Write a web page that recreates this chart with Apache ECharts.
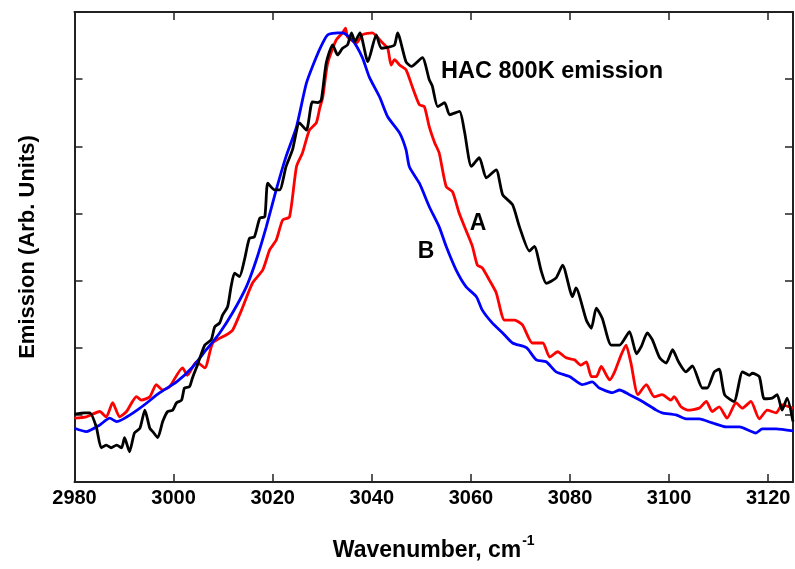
<!DOCTYPE html>
<html>
<head>
<meta charset="utf-8">
<script src="https://cdn.jsdelivr.net/npm/echarts@6/dist/echarts.min.js"></script>
<style>
html,body{margin:0;padding:0;background:#fff;}
#chart{width:795px;height:569px;}
</style>
</head>
<body>
<div id="chart"></div>
<script>
// x ticks (wavenumber, cm-1)
const xTicks = [2980, 3000, 3020, 3040, 3060, 3080, 3100, 3120];
// HAC 800K emission (black)
const curveHAC = [[2980,1.01],[2982.1,1.03],[2983.1,1.03],[2984.4,0.82],[2985.4,0.51],[2986.4,0.55],[2987.4,0.51],[2988.5,0.55],[2989.5,0.51],[2990.1,0.66],[2991.1,0.45],[2992.1,0.73],[2993.2,0.80],[2994.2,1.07],[2995.2,0.80],[2995.8,0.75],[2996.8,0.66],[2997.8,0.90],[2998.8,1.05],[2999.8,1.07],[3000.6,1.18],[3001.6,1.22],[3002.2,1.40],[3003.2,1.42],[3003.8,1.55],[3004.8,1.74],[3006.3,2.04],[3007.6,2.12],[3008.3,2.31],[3009.3,2.37],[3009.9,2.49],[3010.9,2.61],[3011.6,2.91],[3012.3,3.11],[3013.3,3.06],[3014.3,3.31],[3015.3,3.63],[3016.3,3.65],[3017.4,3.93],[3018.4,3.95],[3019.0,4.45],[3020.4,4.35],[3021.4,4.35],[3022.7,4.70],[3024.0,4.95],[3025.4,5.35],[3026.8,5.24],[3028.0,5.66],[3029.1,5.65],[3029.8,5.69],[3030.8,6.24],[3032.1,6.51],[3033.1,6.36],[3034.1,6.46],[3035.1,6.51],[3035.9,6.69],[3036.6,6.56],[3037.6,6.69],[3039.2,6.26],[3040.9,6.66],[3041.9,6.46],[3043.6,6.48],[3044.6,6.51],[3045.2,6.69],[3046.9,6.26],[3048.0,6.19],[3050.2,6.32],[3051.6,5.99],[3052.2,5.90],[3053.3,5.59],[3054.7,5.65],[3055.7,5.47],[3057.7,5.52],[3058.7,5.22],[3060.1,4.70],[3061.7,4.83],[3063.1,4.53],[3065.1,4.65],[3066.4,4.28],[3068.4,4.13],[3069.8,3.80],[3071.8,3.44],[3072.8,3.51],[3074.2,3.14],[3075.2,2.96],[3077.2,3.04],[3078.5,3.23],[3080.5,2.76],[3081.2,2.89],[3083.3,2.41],[3084.3,2.29],[3085.3,2.59],[3086.5,2.44],[3088.3,2.04],[3090.0,2.04],[3092.0,2.24],[3093.4,1.91],[3094.4,2.02],[3095.6,2.22],[3096.6,2.12],[3098.1,1.85],[3099.4,1.77],[3100.7,1.97],[3101.9,1.79],[3103.4,1.64],[3104.7,1.73],[3106.7,1.40],[3107.7,1.40],[3109.1,1.64],[3110.1,1.68],[3111.2,1.30],[3113.1,1.20],[3114.8,1.64],[3116.2,1.59],[3116.8,1.62],[3118.2,1.57],[3119.2,1.24],[3120.8,1.25],[3121.8,1.30],[3122.8,1.07],[3123.8,1.25],[3125,0.90]];
// curve A (red)
const curveA = [[2980,0.95],[2982.4,0.97],[2985.1,1.05],[2986.4,0.97],[2987.7,1.18],[2989.1,0.97],[2990.5,1.05],[2992.5,1.27],[2993.5,1.22],[2995.2,1.27],[2996.5,1.45],[2997.8,1.37],[2999.2,1.42],[3001.8,1.70],[3002.8,1.59],[3004.6,1.79],[3006.3,1.70],[3007.9,2.07],[3010.6,2.19],[3011.9,2.26],[3013.7,2.56],[3015.9,2.96],[3018.0,3.16],[3019.4,3.46],[3020.7,3.60],[3022.0,3.90],[3023.4,3.95],[3024.8,4.70],[3026.0,4.90],[3027.4,5.24],[3028.8,5.35],[3029.5,5.57],[3030.1,5.73],[3031.1,6.24],[3032.8,6.58],[3034.1,6.69],[3034.7,6.76],[3035.1,6.63],[3036.9,6.54],[3038.1,6.66],[3040.1,6.69],[3041.9,6.56],[3043.2,6.46],[3043.9,6.21],[3044.6,6.29],[3045.6,6.21],[3046.9,6.14],[3048.2,5.88],[3049.6,5.62],[3050.6,5.59],[3051.6,5.29],[3052.7,5.05],[3053.6,4.90],[3055.0,4.40],[3056.3,4.32],[3057.6,4.01],[3059.0,3.75],[3060.3,3.51],[3061.3,3.23],[3062.3,3.19],[3063.7,3.01],[3065.1,2.82],[3066.8,2.41],[3068.8,2.41],[3070.4,2.34],[3072.4,2.07],[3074.5,2.07],[3075.9,1.86],[3077.5,1.94],[3079.2,1.85],[3080.9,1.82],[3082.2,1.74],[3083.3,1.79],[3084.3,1.57],[3085.3,1.57],[3086.3,1.72],[3088.0,1.52],[3089.0,1.64],[3090.3,1.89],[3091.3,2.04],[3092.3,1.77],[3093.7,1.30],[3095.4,1.45],[3097.0,1.27],[3098.6,1.30],[3100.4,1.22],[3101.0,1.27],[3102.4,1.12],[3103.7,1.07],[3106.1,1.10],[3107.5,1.20],[3108.7,1.05],[3110.1,1.12],[3111.7,0.95],[3113.5,1.18],[3114.8,1.10],[3116.5,1.20],[3118.2,0.94],[3119.8,1.07],[3121.6,1.03],[3122.8,1.15],[3125,1.10]];
// curve B (blue)
const curveB = [[2980,0.80],[2982.4,0.75],[2985.1,0.85],[2987.1,0.95],[2988.5,0.90],[2993.2,1.10],[2997.2,1.33],[3000.6,1.49],[3003.8,1.71],[3006.6,1.97],[3009.3,2.22],[3011.9,2.52],[3014.7,2.91],[3016.7,3.31],[3018.7,3.80],[3020.7,4.35],[3022.7,4.85],[3024.8,5.29],[3026.8,5.94],[3028.8,6.33],[3030.1,6.54],[3031.1,6.66],[3033.1,6.69],[3034.1,6.69],[3036.1,6.58],[3038.1,6.32],[3039.5,6.03],[3041.6,5.73],[3043.2,5.44],[3045.6,5.20],[3046.9,4.95],[3047.6,4.69],[3049.6,4.45],[3051.6,4.10],[3053.6,3.80],[3055.0,3.51],[3057.0,3.16],[3059.0,2.91],[3061.1,2.76],[3062.3,2.56],[3064.3,2.37],[3066.4,2.22],[3068.4,2.07],[3071.2,2.00],[3073.2,1.82],[3075.2,1.79],[3077.2,1.64],[3079.9,1.57],[3082.5,1.45],[3084.5,1.49],[3085.9,1.40],[3088.6,1.33],[3090.0,1.37],[3092.0,1.30],[3094.6,1.20],[3097.4,1.07],[3098.6,1.03],[3101.4,1.00],[3103.4,0.94],[3106.1,0.94],[3108.7,0.88],[3111.5,0.82],[3114.2,0.82],[3117.5,0.73],[3118.8,0.79],[3121.6,0.79],[3125,0.76]];

const FONT = "'Liberation Sans', Arial, sans-serif";
const frameColor = '#222';

const chart = echarts.init(document.getElementById('chart'), null, {renderer: 'canvas'});

function xAxisCfg(pos, showLabels) {
  return {
    type: 'value', position: pos, min: 2980, max: 3125, interval: 20,
    axisLine: {show: true, onZero: false, lineStyle: {color: frameColor, width: 2}},
    axisTick: {show: true, inside: true, length: 8, lineStyle: {color: frameColor, width: 1.5}},
    splitLine: {show: false},
    axisLabel: {
      show: showLabels, margin: 6, color: '#000', fontFamily: FONT, fontWeight: 'bold', fontSize: 20,
      showMaxLabel: false,
      formatter: v => (xTicks.indexOf(v) >= 0 ? String(v) : '')
    }
  };
}
function yAxisCfg(pos) {
  return {
    type: 'value', position: pos, min: 0, max: 7, interval: 1,
    axisLine: {show: true, onZero: false, lineStyle: {color: frameColor, width: 2}},
    axisTick: {show: true, inside: true, length: 8, lineStyle: {color: frameColor, width: 1.5}},
    splitLine: {show: false},
    axisLabel: {show: false}
  };
}

const xBottom = xAxisCfg('bottom', true);
xBottom.name = '{t|Wavenumber, cm}{s|-1}';
xBottom.nameLocation = 'middle';
xBottom.nameGap = 52;
xBottom.nameTextStyle = {
  rich: {
    t: {fontFamily: FONT, fontWeight: 'bold', fontSize: 23, color: '#000', lineHeight: 28, verticalAlign: 'bottom'},
    s: {fontFamily: FONT, fontWeight: 'bold', fontSize: 14, color: '#000', lineHeight: 28, verticalAlign: 'top', padding: [0, 0, 0, 1]}
  }
};
const xTop = xAxisCfg('top', false);

const yLeft = yAxisCfg('left');
yLeft.name = 'Emission (Arb. Units)';
yLeft.nameLocation = 'middle';
yLeft.nameGap = 36;
yLeft.nameTextStyle = {fontFamily: FONT, fontWeight: 'bold', fontSize: 22, color: '#000'};
const yRight = yAxisCfg('right');

function lineSeries(name, data, color) {
  return {
    name, type: 'line', data, showSymbol: false, symbol: 'none', smooth: 0.2,
    xAxisIndex: 0, yAxisIndex: 0,
    lineStyle: {color, width: 2.8}, itemStyle: {color}, clip: false, z: 3
  };
}

chart.setOption({
  animation: false,
  backgroundColor: '#fff',
  grid: {left: 74.5, right: 2, top: 12, bottom: 87, containLabel: false},
  xAxis: [xBottom, xTop],
  yAxis: [yLeft, yRight],
  series: [
    lineSeries('A', curveA, '#ff0000'),
    lineSeries('B', curveB, '#0000ff'),
    lineSeries('HAC 800K emission', curveHAC, '#000000')
  ],
  graphic: [
    {type: 'text', x: 441, y: 72, style: {text: 'HAC 800K emission', font: "bold 23.5px " + FONT, fill: '#000', align: 'left', verticalAlign: 'middle'}},
    {type: 'text', x: 478, y: 224, style: {text: 'A', font: "bold 23px " + FONT, fill: '#000', align: 'center', verticalAlign: 'middle'}},
    {type: 'text', x: 426, y: 252, style: {text: 'B', font: "bold 23px " + FONT, fill: '#000', align: 'center', verticalAlign: 'middle'}}
  ]
});
</script>
</body>
</html>
